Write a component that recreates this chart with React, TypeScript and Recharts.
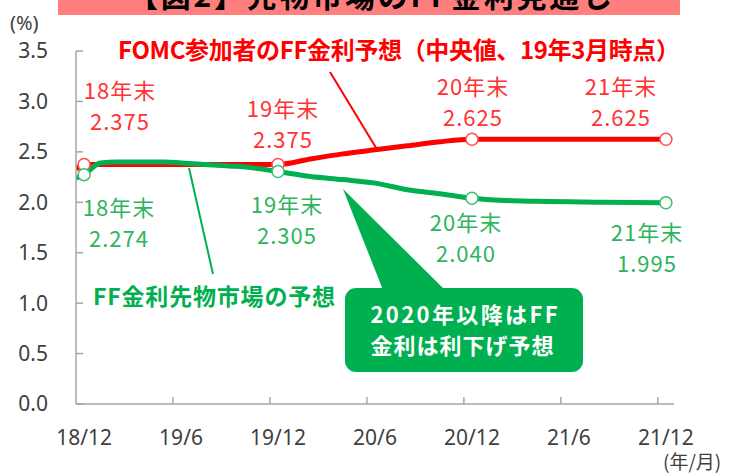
import { LineChart, Line, XAxis, YAxis, ReferenceLine } from 'recharts';

// months counted from 2018/12 (0) to 2021/12 (36)
const xLabelMonths = [0, 6, 12, 18, 24, 30, 36];
const xLabels = ['18/12', '19/6', '19/12', '20/6', '20/12', '21/6', '21/12'];
const xMarkMonths = [5.5, 11.5, 17.5, 23.5, 29.5, 35.5];
const yTicks = [0, 0.5, 1, 1.5, 2, 2.5, 3, 3.5];

const fomcMonths = [-0.5, 0, 12, 14, 16, 18, 20, 22, 24, 36];
const fomcRates = [2.33, 2.375, 2.375, 2.43, 2.48, 2.52, 2.56, 2.6, 2.625, 2.625];

const futuresMonths = [-0.5, 0, 1, 2, 3, 4, 5, 6, 7, 8, 9, 10, 11, 12, 14, 16, 18, 20, 22, 24, 26, 28, 30, 32, 34, 36];
const futuresRates = [2.24, 2.274, 2.39, 2.4, 2.4, 2.4, 2.4, 2.39, 2.38, 2.37, 2.36, 2.35, 2.33, 2.305, 2.255, 2.225, 2.19, 2.125, 2.085, 2.04, 2.018, 2.01, 2.005, 2.0, 1.997, 1.995];

const markedMonths = [0, 12, 24, 36];

const fomcData = fomcMonths.map((m, i) => ({ m, v: fomcRates[i] }));
const futuresData = futuresMonths.map((m, i) => ({ m, v: futuresRates[i] }));

const RED = '#FF0000';
const GREEN = '#00B050';
const AXIS = '#A6A6A6';
const LATIN = "'Noto Sans', sans-serif";
const CJK = "'Noto Sans CJK JP', sans-serif";

function mark(p: any, color: string) {
  const key = `dot-${p.index}`;
  if (!markedMonths.includes(p.payload.m)) return <g key={key} />;
  return <circle key={key} cx={p.cx} cy={p.cy} r={6} fill="#fff" stroke={color} strokeWidth={1.5} />;
}

function XLabel({ x, y, payload }: any) {
  const i = xLabelMonths.indexOf(payload.value);
  return (
    <text x={x} y={y} dy="0.71em" textAnchor="middle" fontSize={21} fill="#404040" fontFamily={LATIN}>
      {xLabels[i]}
    </text>
  );
}

function YLabel({ x, y, payload }: any) {
  return (
    <text x={x} y={y} dy="0.355em" textAnchor="end" fontSize={21} fill="#404040" fontFamily={LATIN}>
      {payload.value.toFixed(1)}
    </text>
  );
}

function Label2({ x, y, a, b, color }: { x: number; y: number; a: string; b: string; color: string }) {
  return (
    <g fontFamily={CJK} fontSize={22} fill={color} textAnchor="middle" letterSpacing={1}>
      <text x={x} y={y} dy="0.36em">{a}</text>
      <text x={x} y={y + 31} dy="0.36em">{b}</text>
    </g>
  );
}

export default function App() {
  return (
    <div style={{ position: 'absolute', left: 0, top: 0, width: 729, height: 474, background: '#fff' }}>
      <LineChart width={729} height={474} margin={{ top: 51, right: 55, bottom: 40, left: 16 }}>
        <XAxis
          dataKey="m"
          type="number"
          domain={[-0.5, 36.5]}
          ticks={xLabelMonths}
          interval={0}
          height={30}
          tickSize={0}
          tickMargin={26}
          tickLine={false}
          axisLine={{ stroke: AXIS, strokeWidth: 1.5 }}
          tick={<XLabel />}
          allowDataOverflow
        />
        <YAxis
          type="number"
          domain={[0, 3.5]}
          ticks={yTicks}
          interval={0}
          width={60}
          tickSize={0}
          tickMargin={28}
          tickLine={false}
          axisLine={{ stroke: AXIS, strokeWidth: 1.5 }}
          tick={<YLabel />}
        />
        {/* inward tick marks */}
        {xMarkMonths.map((m) => (
          <ReferenceLine key={`xm-${m}`} segment={[{ x: m, y: 0 }, { x: m, y: 0.07 }]} stroke={AXIS} strokeWidth={1.5} />
        ))}
        {yTicks.map((v) => (
          <ReferenceLine key={`ym-${v}`} segment={[{ x: -0.5, y: v }, { x: -0.06, y: v }]} stroke={AXIS} strokeWidth={1.5} />
        ))}
        <Line
          data={fomcData}
          dataKey="v"
          type="monotone"
          stroke={RED}
          strokeWidth={5}
          dot={(p: any) => mark(p, '#FF5050')}
          activeDot={false}
          isAnimationActive={false}
        />
        <Line
          data={futuresData}
          dataKey="v"
          type="monotone"
          stroke={GREEN}
          strokeWidth={5}
          dot={(p: any) => mark(p, '#3CC070')}
          activeDot={false}
          isAnimationActive={false}
        />
      </LineChart>

      <svg width={729} height={474} style={{ position: 'absolute', left: 0, top: 0, pointerEvents: 'none' }}>
        {/* title banner, cut off at the top of the picture */}
        <rect x={58} y={0} width={622} height={15} fill="#FF7F7F" />
        <text x={370} y={7} textAnchor="middle" fontFamily={CJK} fontWeight={700} fontSize={30} fill="#000" textLength={484} lengthAdjust="spacing">
          【図2】先物市場のFF金利見通し
        </text>

        <text x={10} y={23} dy="0.36em" fontFamily={LATIN} fontSize={20} fill="#404040">(%)</text>
        <text x={663} y={462} dy="0.36em" fontFamily={CJK} fontSize={19} fill="#404040">(年/月)</text>

        {/* FOMC projection */}
        <text x={118} y={50} dy="0.36em" fontFamily={CJK} fontWeight={700} fontSize={24} fill={RED} textLength={562} lengthAdjust="spacing">
          FOMC参加者のFF金利予想（中央値、19年3月時点）
        </text>
        <line x1={330} y1={72} x2={378} y2={151} stroke={RED} strokeWidth={2} />
        <Label2 x={120} y={91} a="18年末" b="2.375" color="#FF3333" />
        <Label2 x={283} y={109} a="19年末" b="2.375" color="#FF3333" />
        <Label2 x={473} y={87} a="20年末" b="2.625" color="#FF3333" />
        <Label2 x={621} y={87} a="21年末" b="2.625" color="#FF3333" />

        {/* futures market */}
        <Label2 x={119} y={208} a="18年末" b="2.274" color="#2DB55D" />
        <Label2 x={287} y={205} a="19年末" b="2.305" color="#2DB55D" />
        <Label2 x={466} y={223} a="20年末" b="2.040" color="#2DB55D" />
        <Label2 x={647} y={233} a="21年末" b="1.995" color="#2DB55D" />
        <line x1={189} y1={168} x2={213} y2={274} stroke={GREEN} strokeWidth={2} />
        <text x={93} y={297} dy="0.36em" fontFamily={CJK} fontWeight={700} fontSize={23} fill={GREEN} textLength={242} lengthAdjust="spacing">
          FF金利先物市場の予想
        </text>

        {/* callout */}
        <polygon points="343,189 383,290 445,290" fill={GREEN} />
        <rect x={345} y={288} width={238} height={84} rx={11} fill={GREEN} />
        <g fontFamily={CJK} fontWeight={700} fontSize={22} fill="#fff" textAnchor="middle">
          <text x={464} y={315} dy="0.36em" textLength={187} lengthAdjust="spacing">2020年以降はFF</text>
          <text x={462} y={346} dy="0.36em" textLength={183} lengthAdjust="spacing">金利は利下げ予想</text>
        </g>
      </svg>
    </div>
  );
}
